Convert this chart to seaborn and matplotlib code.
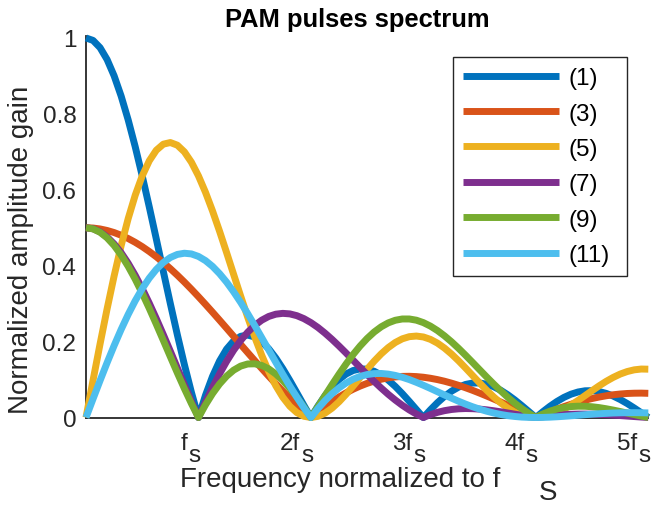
import matplotlib
matplotlib.use("Agg")
import matplotlib.pyplot as plt
from matplotlib import transforms
import pandas as pd
import seaborn as sns

# ---- data ----
freq = [0.0, 0.0625, 0.125, 0.1875, 0.25, 0.3125, 0.375, 0.4375,
        0.5, 0.5625, 0.625, 0.6875, 0.75, 0.8125, 0.875, 0.9375,
        1.0, 1.0625, 1.125, 1.1875, 1.25, 1.3125, 1.375, 1.4375,
        1.5, 1.5625, 1.625, 1.6875, 1.75, 1.8125, 1.875, 1.9375,
        2.0, 2.0625, 2.125, 2.1875, 2.25, 2.3125, 2.375, 2.4375,
        2.5, 2.5625, 2.625, 2.6875, 2.75, 2.8125, 2.875, 2.9375,
        3.0, 3.0625, 3.125, 3.1875, 3.25, 3.3125, 3.375, 3.4375,
        3.5, 3.5625, 3.625, 3.6875, 3.75, 3.8125, 3.875, 3.9375,
        4.0, 4.0625, 4.125, 4.1875, 4.25, 4.3125, 4.375, 4.4375,
        4.5, 4.5625, 4.625, 4.6875, 4.75, 4.8125, 4.875, 4.9375,
        5.0]

pulse1 = [1.0, 0.9936, 0.9745, 0.9432, 0.9003, 0.8469, 0.7842, 0.7136,
          0.6366, 0.5550, 0.4705, 0.3850, 0.3001, 0.2177, 0.1392, 0.0662,
          0.0, 0.0585, 0.1083, 0.1489, 0.1801, 0.2017, 0.2139, 0.2172,
          0.2122, 0.1998, 0.1810, 0.1568, 0.1286, 0.0976, 0.0650, 0.0321,
          0.0, 0.0301, 0.0573, 0.0808, 0.1000, 0.1145, 0.1238, 0.1281,
          0.1273, 0.1218, 0.1120, 0.0985, 0.0819, 0.0629, 0.0424, 0.0211,
          0.0, 0.0203, 0.0390, 0.0555, 0.0693, 0.0799, 0.0871, 0.0908,
          0.0910, 0.0876, 0.0811, 0.0718, 0.0600, 0.0464, 0.0314, 0.0158,
          0.0, 0.0153, 0.0295, 0.0422, 0.0530, 0.0614, 0.0672, 0.0704,
          0.0707, 0.0684, 0.0636, 0.0565, 0.0474, 0.0368, 0.0250, 0.0126,
          0.0]

pulse3 = [0.5, 0.4992, 0.4968, 0.4928, 0.4873, 0.4802, 0.4716, 0.4616,
          0.4502, 0.4374, 0.4235, 0.4083, 0.3921, 0.3749, 0.3568, 0.3379,
          0.3183, 0.2981, 0.2775, 0.2565, 0.2353, 0.2139, 0.1925, 0.1712,
          0.1501, 0.1292, 0.1088, 0.0889, 0.0696, 0.0510, 0.0331, 0.0161,
          0.0, 0.0151, 0.0292, 0.0422, 0.0541, 0.0649, 0.0745, 0.0828,
          0.0900, 0.0960, 0.1008, 0.1045, 0.1069, 0.1083, 0.1086, 0.1078,
          0.1061, 0.1034, 0.0999, 0.0956, 0.0905, 0.0848, 0.0784, 0.0716,
          0.0643, 0.0567, 0.0488, 0.0407, 0.0325, 0.0242, 0.0160, 0.0079,
          0.0, 0.0077, 0.0151, 0.0221, 0.0287, 0.0348, 0.0404, 0.0455,
          0.0500, 0.0539, 0.0572, 0.0599, 0.0619, 0.0633, 0.0640, 0.0642,
          0.0637]

pulse5 = [0.0, 0.0979, 0.1938, 0.2861, 0.3729, 0.4527, 0.5240, 0.5856,
          0.6366, 0.6763, 0.7042, 0.7202, 0.7245, 0.7175, 0.6999, 0.6726,
          0.6366, 0.5934, 0.5443, 0.4909, 0.4347, 0.3773, 0.3201, 0.2646,
          0.2122, 0.1640, 0.1209, 0.0838, 0.0533, 0.0296, 0.0129, 0.0032,
          0.0, 0.0030, 0.0114, 0.0245, 0.0414, 0.0612, 0.0827, 0.1051,
          0.1273, 0.1485, 0.1677, 0.1842, 0.1976, 0.2073, 0.2130, 0.2146,
          0.2122, 0.2059, 0.1960, 0.1829, 0.1672, 0.1495, 0.1304, 0.1107,
          0.0910, 0.0719, 0.0542, 0.0384, 0.0249, 0.0141, 0.0063, 0.0016,
          0.0, 0.0015, 0.0059, 0.0128, 0.0219, 0.0328, 0.0449, 0.0577,
          0.0707, 0.0834, 0.0952, 0.1056, 0.1144, 0.1211, 0.1256, 0.1277,
          0.1273]

pulse7 = [0.5, 0.4973, 0.4892, 0.4758, 0.4573, 0.4341, 0.4064, 0.3747,
          0.3395, 0.3013, 0.2607, 0.2183, 0.1746, 0.1303, 0.0861, 0.0425,
          0.0, 0.0407, 0.0792, 0.1150, 0.1477, 0.1771, 0.2028, 0.2246,
          0.2425, 0.2564, 0.2663, 0.2722, 0.2744, 0.2730, 0.2683, 0.2605,
          0.2500, 0.2372, 0.2223, 0.2059, 0.1883, 0.1699, 0.1509, 0.1320,
          0.1132, 0.0949, 0.0775, 0.0611, 0.0460, 0.0322, 0.0199, 0.0091,
          0.0, 0.0075, 0.0135, 0.0180, 0.0211, 0.0229, 0.0236, 0.0232,
          0.0221, 0.0202, 0.0178, 0.0150, 0.0119, 0.0088, 0.0057, 0.0027,
          0.0, 0.0025, 0.0045, 0.0062, 0.0075, 0.0084, 0.0089, 0.0090,
          0.0087, 0.0081, 0.0073, 0.0063, 0.0051, 0.0038, 0.0025, 0.0012,
          0.0]

pulse9 = [0.5, 0.4970, 0.4881, 0.4734, 0.4533, 0.4281, 0.3983, 0.3645,
          0.3274, 0.2876, 0.2459, 0.2032, 0.1601, 0.1174, 0.0761, 0.0367,
          0.0, 0.0334, 0.0630, 0.0883, 0.1089, 0.1247, 0.1354, 0.1410,
          0.1415, 0.1371, 0.1281, 0.1147, 0.0975, 0.0768, 0.0533, 0.0275,
          0.0, 0.0286, 0.0575, 0.0863, 0.1143, 0.1410, 0.1659, 0.1884,
          0.2083, 0.2253, 0.2390, 0.2493, 0.2562, 0.2596, 0.2596, 0.2564,
          0.2500, 0.2408, 0.2291, 0.2152, 0.1995, 0.1823, 0.1640, 0.1451,
          0.1259, 0.1068, 0.0882, 0.0703, 0.0534, 0.0377, 0.0235, 0.0109,
          0.0, 0.0092, 0.0166, 0.0223, 0.0263, 0.0288, 0.0298, 0.0296,
          0.0283, 0.0261, 0.0231, 0.0196, 0.0157, 0.0117, 0.0076, 0.0037,
          0.0]

pulse11 = [0.0, 0.0490, 0.0973, 0.1443, 0.1894, 0.2320, 0.2715, 0.3075,
           0.3395, 0.3672, 0.3902, 0.4084, 0.4216, 0.4297, 0.4328, 0.4310,
           0.4244, 0.4134, 0.3982, 0.3791, 0.3567, 0.3313, 0.3035, 0.2737,
           0.2425, 0.2104, 0.1779, 0.1455, 0.1137, 0.0828, 0.0534, 0.0257,
           0.0, 0.0234, 0.0442, 0.0625, 0.0780, 0.0908, 0.1009, 0.1083,
           0.1132, 0.1157, 0.1160, 0.1143, 0.1109, 0.1060, 0.0999, 0.0927,
           0.0849, 0.0766, 0.0680, 0.0594, 0.0510, 0.0429, 0.0353, 0.0283,
           0.0221, 0.0166, 0.0119, 0.0080, 0.0049, 0.0027, 0.0011, 0.0003,
           0.0, 0.0002, 0.0009, 0.0019, 0.0031, 0.0045, 0.0059, 0.0074,
           0.0087, 0.0099, 0.0109, 0.0118, 0.0123, 0.0126, 0.0127, 0.0125,
           0.0121]

series_names = ["(1)", "(3)", "(5)", "(7)", "(9)", "(11)"]
series_values = [pulse1, pulse3, pulse5, pulse7, pulse9, pulse11]
colors = ["#0072BD", "#D95319", "#EDB120", "#7E2F8E", "#77AC30", "#4DBEEE"]

for vals in series_values:
    assert len(vals) == len(freq), len(vals)

xtick_pos = [1, 2, 3, 4, 5]
xtick_main = ["f", "2f", "3f", "4f", "5f"]
xtick_sub = ["s", "s", "s", "s", "s"]
ytick_pos = [0, 0.2, 0.4, 0.6, 0.8, 1.0]
ytick_lab = ["0", "0.2", "0.4", "0.6", "0.8", "1"]

title = "PAM pulses spectrum"
xlabel_main = "Frequency normalized to f"
xlabel_sub = "S"
ylabel = "Normalized amplitude gain"

# ---- build long table ----
rows = []
for name, vals in zip(series_names, series_values):
    for f, v in zip(freq, vals):
        rows.append({"freq": f, "gain": v, "pulse": name})
df = pd.DataFrame(rows)

sns.set_style("white")
plt.rcParams["font.family"] = ["Liberation Sans", "DejaVu Sans"]

AX_COL = "#262626"
TICK_FS = 17.5
LABEL_FS = 20

W, H = 660, 506
AX_L, AX_R, AX_T, AX_B = 86, 648.3, 36.7, 418.5
AX_W, AX_H = AX_R - AX_L, AX_B - AX_T

fig = plt.figure(figsize=(W / 100, H / 100), dpi=100)
ax = fig.add_axes([AX_L / W, (H - AX_B) / H, AX_W / W, AX_H / H])


def axx(px):
    return (px - AX_L) / AX_W


def axy(py):
    return (AX_B - py) / AX_H


sns.lineplot(data=df, x="freq", y="gain", hue="pulse", hue_order=series_names,
             palette=colors, linewidth=5, estimator=None, sort=False,
             legend=False, ax=ax)

for ln in ax.lines:
    ln.set_clip_on(False)
    ln.set_solid_capstyle("butt")
    ln.set_solid_joinstyle("round")
    ln.set_zorder(3)

ax.set_xlim(0, 5)
ax.set_ylim(0, 1.006)

for s in ["top", "right"]:
    ax.spines[s].set_visible(False)
for s in ["left", "bottom"]:
    ax.spines[s].set_color(AX_COL)
    ax.spines[s].set_linewidth(1.3)
    ax.spines[s].set_zorder(2)

ax.set_xticks(xtick_pos)
ax.set_yticks(ytick_pos)
ax.set_yticklabels(ytick_lab)
ax.tick_params(axis="both", direction="in", length=4, width=1.0,
               colors=AX_COL, labelsize=TICK_FS, pad=7)
ax.tick_params(axis="x", labelbottom=False)

# x tick labels in MATLAB tex style (subscript dropped well below)
base_tr = ax.get_xaxis_transform()
for p, m, sub in zip(xtick_pos, xtick_main, xtick_sub):
    tr_m = transforms.offset_copy(base_tr, fig=fig, x=-11, y=-31.5, units="dots")
    tr_s = transforms.offset_copy(base_tr, fig=fig, x=-10, y=-43.5, units="dots")
    ax.text(p, 0, m, transform=tr_m, ha="right", va="baseline",
            fontsize=TICK_FS, color=AX_COL)
    ax.text(p, 0, sub, transform=tr_s, ha="left", va="baseline",
            fontsize=TICK_FS, color=AX_COL)

# axis labels
ax.set_xlabel(xlabel_main, fontsize=LABEL_FS, color=AX_COL, ha="left", va="baseline")
ax.xaxis.set_label_coords(axx(180), axy(487))
ax.text(axx(539), axy(500), xlabel_sub, transform=ax.transAxes,
        ha="left", va="baseline", fontsize=LABEL_FS, color=AX_COL)

ax.set_ylabel(ylabel, fontsize=LABEL_FS, color=AX_COL)
ax.yaxis.set_label_coords(axx(34), axy(250))

ax.set_title(title, fontsize=18.4, fontweight="bold", color="black",
             x=axx(357.5), y=axy(27), va="baseline", pad=0)

leg_x0, leg_x1, leg_top, leg_bot = 453, 627, 58, 278
leg = ax.legend(handles=ax.lines, labels=series_names, loc="upper left",
                bbox_to_anchor=(axx(leg_x0), axy(leg_bot),
                                axx(leg_x1) - axx(leg_x0), axy(leg_top) - axy(leg_bot)),
                bbox_transform=ax.transAxes, borderaxespad=0, mode="expand",
                fontsize=TICK_FS, handlelength=3.95, handletextpad=0.37,
                labelspacing=0.55, borderpad=0.42, frameon=True,
                fancybox=False, framealpha=1, edgecolor=AX_COL)
leg.get_frame().set_linewidth(1.0)
for t in leg.get_texts():
    t.set_color("black")

fig.savefig("out.png", dpi=100)
